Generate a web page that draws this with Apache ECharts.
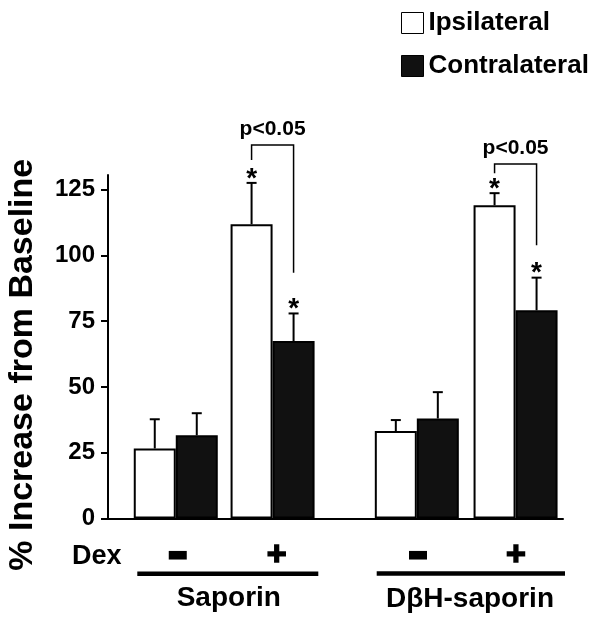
<!DOCTYPE html>
<html>
<head>
<meta charset="utf-8">
<script src="https://cdn.jsdelivr.net/npm/echarts@6/dist/echarts.min.js"></script>
<style>
  html, body { margin: 0; padding: 0; background: #fff; }
  #chart { width: 601px; height: 625px; }
</style>
</head>
<body>
<div id="chart"></div>
<script>
const groups = ['Saporin Dex-', 'Saporin Dex+', 'DβH-saporin Dex-', 'DβH-saporin Dex+'];
const ipsiMean = [26.6, 111.8, 33.2, 119.0];
const ipsiSem = [11.1, 15.7, 4.2, 4.6];
const contraMean = [31.6, 67.4, 38.0, 79.1];
const contraSem = [8.4, 10.5, 10.0, 12.4];
const ipsiSig = [0, 1, 0, 1];
const contraSig = [0, 1, 0, 1];
const yTicks = [0, 25, 50, 75, 100, 125];

// p<0.05 brackets between ipsi and contra of one group
const bracketGroup = [1, 3];
const bracketTop = [141.9, 134.7];
const bracketLeftEnd = [136.2, 131.2];
const bracketRightEnd = [93.4, 103.8];

// where each group sits on the hidden x scale
const groupPos = [1.4, 3.4, 6.38, 8.42];
const BAR_W = 42;
const FONT = '"Liberation Sans", Arial, sans-serif';

const chart = echarts.init(document.getElementById('chart'));

function errorSeries(name, mean, sem, sig, side) {
  return {
    type: 'custom',
    name: name,
    clip: false,
    silent: true,
    z: 5,
    data: mean.map((m, i) => [groupPos[i], m, m + sem[i], sig[i]]),
    renderItem: (params, api) => {
      const base = api.coord([api.value(0), api.value(1)]);
      const top = api.coord([api.value(0), api.value(2)]);
      const x = base[0] + side * BAR_W / 2;
      const children = [
        { type: 'line', shape: { x1: x, y1: base[1], x2: x, y2: top[1] }, style: { stroke: '#000', lineWidth: 2 } },
        { type: 'line', shape: { x1: x - 5, y1: top[1], x2: x + 5, y2: top[1] }, style: { stroke: '#000', lineWidth: 2 } }
      ];
      if (api.value(3)) {
        children.push({
          type: 'text',
          style: {
            text: '*', x: x, y: top[1] - 4,
            align: 'center', verticalAlign: 'middle',
            textAlign: 'center', textVerticalAlign: 'middle',
            font: 'bold 28px ' + FONT, fill: '#000'
          }
        });
      }
      return { type: 'group', children: children };
    }
  };
}

const option = {
  animation: false,
  backgroundColor: '#fff',
  grid: { left: 108, right: 38, top: 175, bottom: 106.5, outerBoundsMode: 'none' },
  legend: {
    orient: 'vertical',
    left: 401,
    top: 10,
    padding: 0,
    itemWidth: 22,
    itemHeight: 21,
    itemGap: 17,
    selectedMode: false,
    textStyle: { fontSize: 26, fontWeight: 'bold', color: '#000', fontFamily: FONT },
    data: [
      { name: 'Ipsilateral', icon: 'rect', itemStyle: { color: '#fff', borderColor: '#000', borderWidth: 1 } },
      { name: 'Contralateral', icon: 'rect', itemStyle: { color: '#111', borderColor: '#000', borderWidth: 1 } }
    ]
  },
  xAxis: {
    type: 'value',
    min: 0,
    max: 9.4,
    axisLine: { show: true, lineStyle: { color: '#000', width: 2 } },
    axisTick: { show: false },
    axisLabel: { show: false },
    splitLine: { show: false }
  },
  yAxis: {
    type: 'value',
    min: 0,
    max: 130.5,
    interval: 25,
    name: '% Increase from Baseline',
    nameLocation: 'middle',
    nameRotate: 90,
    nameGap: 68,
    nameTextStyle: { fontSize: 34, fontWeight: 'bold', color: '#000', fontFamily: FONT, padding: [0, 36, 0, 0] },
    axisLine: { show: true, lineStyle: { color: '#000', width: 2 } },
    axisTick: { show: true, length: 7, customValues: yTicks, lineStyle: { color: '#000', width: 2 } },
    axisLabel: { customValues: yTicks, fontSize: 24, fontWeight: 'bold', color: '#000', fontFamily: FONT, margin: 13 },
    splitLine: { show: false }
  },
  series: [
    {
      name: 'Ipsilateral',
      type: 'bar',
      barWidth: BAR_W,
      barGap: '0%',
      data: groupPos.map((x, i) => [x, ipsiMean[i]]),
      itemStyle: { color: '#fff', borderColor: '#000', borderWidth: 2 }
    },
    {
      name: 'Contralateral',
      type: 'bar',
      barWidth: BAR_W,
      barGap: '0%',
      data: groupPos.map((x, i) => [x, contraMean[i]]),
      itemStyle: { color: '#111', borderColor: '#000', borderWidth: 2 }
    },
    errorSeries('Ipsilateral SEM', ipsiMean, ipsiSem, ipsiSig, -1),
    errorSeries('Contralateral SEM', contraMean, contraSem, contraSig, 1),
    {
      type: 'custom',
      name: 'p brackets',
      clip: false,
      silent: true,
      z: 5,
      data: bracketGroup.map((g, i) => [groupPos[g], bracketTop[i], bracketLeftEnd[i], bracketRightEnd[i]]),
      renderItem: (params, api) => {
        const c = api.coord([api.value(0), 0])[0];
        const xl = c - BAR_W / 2;
        const xr = c + BAR_W / 2;
        const yTop = api.coord([api.value(0), api.value(1)])[1];
        const yL = api.coord([api.value(0), api.value(2)])[1];
        const yR = api.coord([api.value(0), api.value(3)])[1];
        return {
          type: 'group',
          children: [
            {
              type: 'polyline',
              shape: { points: [[xl, yL], [xl, yTop], [xr, yTop], [xr, yR]] },
              style: { stroke: '#000', lineWidth: 1.5, fill: null }
            },
            {
              type: 'text',
              style: {
                text: 'p<0.05', x: (xl + xr) / 2, y: yTop - 5,
                align: 'center', verticalAlign: 'bottom',
                textAlign: 'center', textVerticalAlign: 'bottom',
                font: 'bold 21px ' + FONT, fill: '#000'
              }
            }
          ]
        };
      }
    }
  ],
  graphic: [
    { type: 'text', x: 72, y: 557, style: { text: 'Dex', font: 'bold 27px ' + FONT, fill: '#000', align: 'left', verticalAlign: 'middle', textAlign: 'left', textVerticalAlign: 'middle' } },
    { type: 'text', x: 177.7, y: 556, style: { text: '\u2212', font: 'bold 24px ' + FONT, fill: '#000', stroke: '#000', lineWidth: 6, align: 'center', verticalAlign: 'middle', textAlign: 'center', textVerticalAlign: 'middle' } },
    { type: 'text', x: 276.7, y: 556, style: { text: '+', font: 'bold 34px ' + FONT, fill: '#000', stroke: '#000', lineWidth: 1.5, align: 'center', verticalAlign: 'middle', textAlign: 'center', textVerticalAlign: 'middle' } },
    { type: 'text', x: 418, y: 556, style: { text: '\u2212', font: 'bold 24px ' + FONT, fill: '#000', stroke: '#000', lineWidth: 6, align: 'center', verticalAlign: 'middle', textAlign: 'center', textVerticalAlign: 'middle' } },
    { type: 'text', x: 516, y: 556, style: { text: '+', font: 'bold 34px ' + FONT, fill: '#000', stroke: '#000', lineWidth: 1.5, align: 'center', verticalAlign: 'middle', textAlign: 'center', textVerticalAlign: 'middle' } },
    { type: 'line', shape: { x1: 137.3, y1: 573.8, x2: 318.3, y2: 573.8 }, style: { stroke: '#000', lineWidth: 4.5 } },
    { type: 'line', shape: { x1: 376.7, y1: 573.5, x2: 565, y2: 573.5 }, style: { stroke: '#000', lineWidth: 4.5 } },
    { type: 'text', x: 228.8, y: 598, style: { text: 'Saporin', font: 'bold 28px ' + FONT, fill: '#000', align: 'center', verticalAlign: 'middle', textAlign: 'center', textVerticalAlign: 'middle' } },
    { type: 'text', x: 470, y: 599, style: { text: 'DβH-saporin', font: 'bold 28px ' + FONT, fill: '#000', align: 'center', verticalAlign: 'middle', textAlign: 'center', textVerticalAlign: 'middle' } }
  ]
};

chart.setOption(option);
</script>
</body>
</html>
